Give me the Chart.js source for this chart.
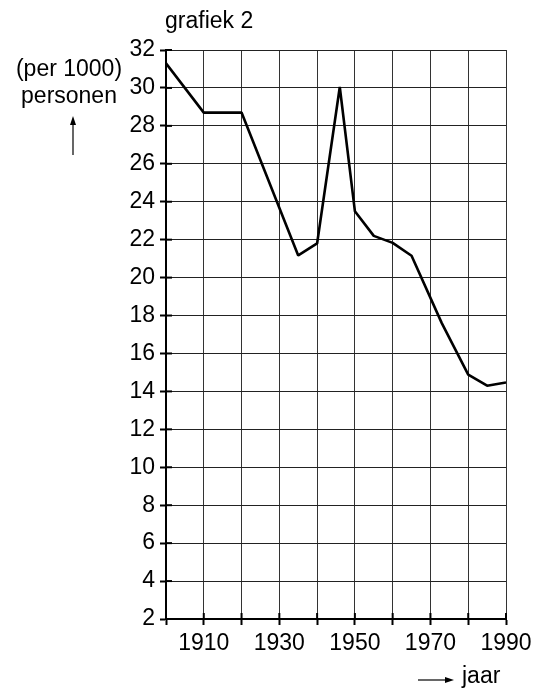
<!DOCTYPE html>
<html>
<head>
<meta charset="utf-8">
<script src="https://cdn.jsdelivr.net/npm/chart.js@4"></script>
<style>
  html, body { margin: 0; padding: 0; background: #fff; }
  canvas { display: block; }
</style>
</head>
<body>
<canvas id="grafiek" width="541" height="695"></canvas>
<script>
// data
const jaren = [1900, 1910, 1920, 1935, 1940, 1946, 1950, 1955, 1960, 1965, 1973, 1980, 1985, 1990];
const perDuizend = [31.3, 28.7, 28.7, 21.17, 21.8, 30.05, 23.5, 22.2, 21.83, 21.15, 17.6, 14.88, 14.3, 14.47];
const xLabels = [1910, 1930, 1950, 1970, 1990];
const titel = 'grafiek 2';
const yTitel = ['(per 1000)', 'personen'];
const xTitel = 'jaar';

const FONT = '"Liberation Sans", Arial, sans-serif';
const SIZE = 23;

// extra texts + arrows around the chart
const tekstPlugin = {
  id: 'teksten',
  afterDraw(chart) {
    const ctx = chart.ctx;
    ctx.save();
    ctx.fillStyle = '#000';
    ctx.strokeStyle = '#000';
    ctx.font = SIZE + 'px ' + FONT;
    ctx.textBaseline = 'alphabetic';
    ctx.textAlign = 'left';
    ctx.fillText(titel, 165, 28);

    ctx.textAlign = 'center';
    ctx.fillText(yTitel[0], 69, 76);
    ctx.fillText(yTitel[1], 69, 103);

    // up arrow
    ctx.lineWidth = 1.2;
    ctx.beginPath();
    ctx.moveTo(73, 155);
    ctx.lineTo(73, 121);
    ctx.stroke();
    ctx.beginPath();
    ctx.moveTo(73, 116);
    ctx.lineTo(70, 125);
    ctx.lineTo(76, 125);
    ctx.closePath();
    ctx.fill();

    // right arrow + jaar
    ctx.beginPath();
    ctx.moveTo(418, 680);
    ctx.lineTo(448, 680);
    ctx.stroke();
    ctx.beginPath();
    ctx.moveTo(454, 680);
    ctx.lineTo(445, 677);
    ctx.lineTo(445, 683);
    ctx.closePath();
    ctx.fill();
    ctx.textAlign = 'left';
    ctx.fillText(xTitel, 462, 683);

    // tick marks that cross the axes (inner half)
    const xs = chart.scales.x, ys = chart.scales.y;
    const area = chart.chartArea;
    ctx.lineWidth = 2;
    ys.ticks.forEach(t => {
      const y = ys.getPixelForValue(t.value);
      ctx.beginPath();
      ctx.moveTo(area.left, y);
      ctx.lineTo(area.left + 6, y);
      ctx.stroke();
    });
    xs.ticks.forEach(t => {
      const x = xs.getPixelForValue(t.value);
      ctx.beginPath();
      ctx.moveTo(x, area.bottom);
      ctx.lineTo(x, area.bottom - 6);
      ctx.stroke();
    });
    ctx.restore();
  }
};

const ctx = document.getElementById('grafiek').getContext('2d');
const data = {
  datasets: [{
    data: jaren.map((j, i) => ({ x: j, y: perDuizend[i] })),
    borderColor: '#000',
    borderWidth: 2.6,
    borderJoinStyle: 'bevel',
    pointRadius: 0,
    tension: 0,
    fill: false
  }]
};

const config = {
  type: 'line',
  data: data,
  options: {
    responsive: false,
    animation: false,
    layout: { padding: { top: 50, right: 35, left: 0, bottom: 0 } },
    plugins: { legend: { display: false }, tooltip: { enabled: false } },
    scales: {
      x: {
        type: 'linear',
        min: 1900, max: 1990,
        afterFit: s => { s.height = 76; },
        grid: { color: '#333', lineWidth: 1, tickLength: 6, tickColor: '#000', tickWidth: 2 },
        border: { color: '#000', width: 2 },
        ticks: {
          stepSize: 10,
          autoSkip: false,
          maxRotation: 0,
          padding: 5,
          color: '#000',
          font: { family: FONT, size: SIZE },
          callback: v => xLabels.includes(v) ? String(v) : ''
        }
      },
      y: {
        min: 2, max: 32,
        afterFit: s => { s.width = 166; },
        grid: { color: '#222', lineWidth: 1, tickLength: 6, tickColor: '#000', tickWidth: 2 },
        border: { color: '#000', width: 2 },
        ticks: {
          stepSize: 2,
          padding: 5,
          color: '#000',
          font: { family: FONT, size: SIZE }
        }
      }
    }
  },
  plugins: [tekstPlugin]
};

const chart = new Chart(ctx, config);
</script>
</body>
</html>
